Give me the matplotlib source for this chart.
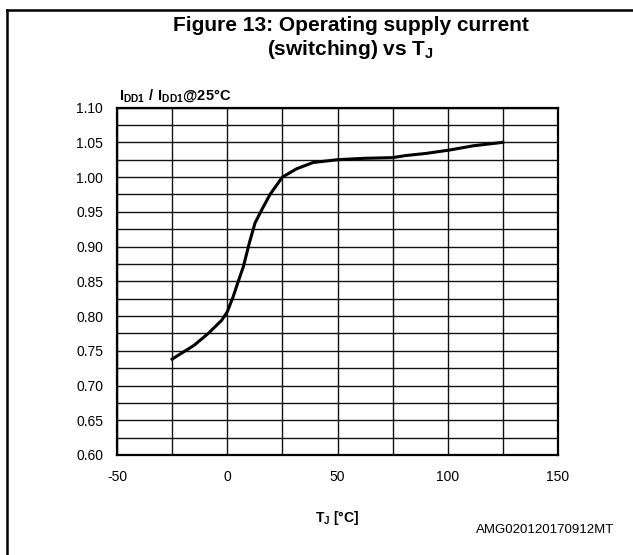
import matplotlib
matplotlib.use("Agg")
import matplotlib.pyplot as plt
from matplotlib.lines import Line2D
from matplotlib.ticker import MultipleLocator, FormatStrFormatter

plt.rcParams['font.family'] = ['Liberation Sans', 'DejaVu Sans']
plt.rcParams['mathtext.fontset'] = 'custom'
plt.rcParams['mathtext.rm'] = 'Liberation Sans'
plt.rcParams['mathtext.bf'] = 'Liberation Sans:bold'
plt.rcParams['axes.unicode_minus'] = False

# curve
tj = [-25, -15, -8.6, -2.5, 0, 2.7, 5, 7.3, 10, 12.6, 16, 19.4, 25,
      31.5, 39, 50, 62, 75, 81, 90, 101, 111.5, 125]
ratio = [0.738, 0.758, 0.775, 0.794, 0.806, 0.828, 0.850, 0.871, 0.905, 0.934,
         0.955, 0.975, 1.000, 1.012, 1.021, 1.025, 1.027, 1.028, 1.031, 1.034,
         1.039, 1.045, 1.050]

fig = plt.figure(figsize=(6.33, 5.55), dpi=100)
ax = fig.add_axes([117/633, 100/555, 441/633, 347.4/555])

ax.plot(tj, ratio, color='black', linewidth=2.2, zorder=3)

ax.set_xlim(-50, 150)
ax.set_ylim(0.60, 1.10)
ax.xaxis.set_major_locator(MultipleLocator(50))
ax.xaxis.set_minor_locator(MultipleLocator(25))
ax.yaxis.set_major_locator(MultipleLocator(0.05))
ax.yaxis.set_minor_locator(MultipleLocator(0.025))
ax.yaxis.set_major_formatter(FormatStrFormatter('%.2f'))
ax.grid(which='both', color='#111111', linewidth=1.0)
ax.tick_params(which='both', length=0, labelsize=10)
ax.tick_params(axis='y', pad=10)
ax.tick_params(axis='x', pad=11)
for s in ax.spines.values():
    s.set_linewidth(1.6)

ax.set_xlabel(r'$\mathbf{T_J}$ [°C]', fontsize=10, fontweight='bold', labelpad=18)
fig.text(119/633, 1 - 100/555, r'$\mathbf{I_{DD1}\ /\ I_{DD1}@25°C}$',
         fontsize=10.5, ha='left', va='baseline')

fig.text(351/633, 1 - 31/555, 'Figure 13: Operating supply current',
         fontsize=15, fontweight='bold', ha='center', va='baseline')
fig.text(351/633, 1 - 55/555, r'(switching) vs T$_\mathbf{J}$',
         fontsize=15, fontweight='bold', ha='center', va='baseline')
fig.text(614/633, 1 - 530/555, 'AMG020120170912MT', fontsize=9.5,
         ha='right', va='center')

# page frame: top and left border lines
fig.add_artist(Line2D([7/633, 1], [1 - 10/555, 1 - 10/555], color='black',
                      linewidth=1.8, transform=fig.transFigure))
fig.add_artist(Line2D([7/633, 7/633], [0, 1 - 10/555], color='black',
                      linewidth=1.8, transform=fig.transFigure))

fig.savefig('out.png', dpi=100)
